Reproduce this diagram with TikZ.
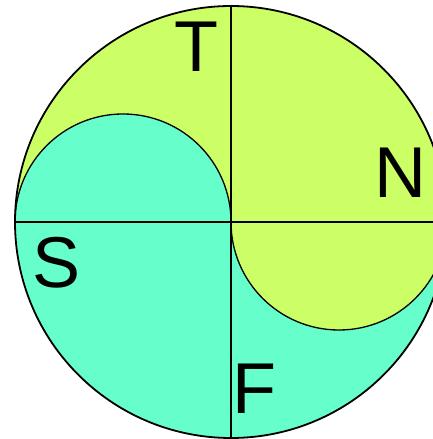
\documentclass[tikz,border=0pt]{standalone}
\usepackage{fontspec}
\setmainfont{Liberation Sans}
\definecolor{ylw}{HTML}{CCFF66}
\definecolor{cyn}{HTML}{66FFCC}
\tikzset{
  letter/.style={font=\fontsize{72}{72}\selectfont, inner sep=0pt, anchor=center},
  divline/.style={line width=1.3pt, black},
  rim/.style={line width=1.8pt, black}
}
\begin{document}
\begin{tikzpicture}[x=1pt,y=1pt]
\useasboundingbox (0,0) rectangle (433,439);
\clip (0,0) rectangle (433,439);
\coordinate (C) at (231,217);
\coordinate (W) at (15,217);
\coordinate (E) at (447,217);
\coordinate (Nn) at (231,432);
\coordinate (Ss) at (231,2);
% base
\fill[ylw] (C) circle (216);
\fill[cyn] (W) arc (180:360:216) -- cycle;
\fill[cyn] (W) arc (180:0:108) -- cycle;
\fill[ylw] (C) arc (180:360:108) -- cycle;
% inner arcs
\draw[divline] (W) arc (180:0:108);
\draw[divline] (C) arc (180:360:108);
% cross lines
\draw[divline] (W) -- (E);
\draw[divline] (Nn) -- (Ss);
% rim
\draw[rim] (C) circle (216);
% letters
\node[letter] (T) at (196,392) {T};
\node[letter] (N) at (400,266) {N};
\node[letter] (S) at (57,176) {S};
\node[letter] (F) at (254,50) {F};
\end{tikzpicture}
\end{document}
